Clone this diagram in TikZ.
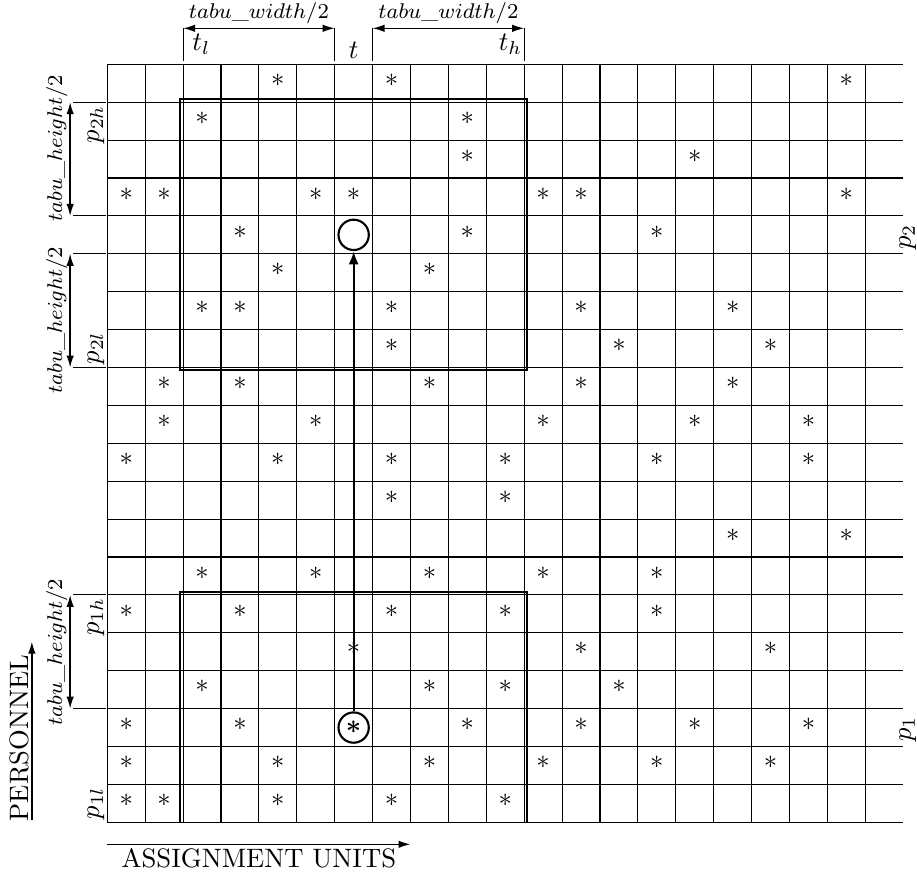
\documentclass[tikz,border=0pt]{standalone}
\usetikzlibrary{arrows.meta}
\begin{document}
\begin{tikzpicture}[x=0.5cm,y=0.5cm,
  gridline/.style={line width=0.4pt},
  tabubox/.style={line width=0.8pt},
  ticklinestyle/.style={line width=0.4pt},
  dimarrow/.style={line width=0.5pt,{Latex[length=4.5pt,width=2.8pt]}-{Latex[length=4.5pt,width=2.8pt]}},
  axisarrow/.style={line width=0.5pt,-{Latex[length=4.5pt,width=2.8pt]}},
  starmark/.style={inner sep=0pt},
  lab/.style={font=\fontsize{8}{10}\selectfont},
  circmark/.style={circle,draw,line width=0.8pt,minimum size=0.4cm,inner sep=0pt},
]
\useasboundingbox (-2.831,-1.391) rectangle (21.364,21.697);

% grid
\foreach \i in {0,...,20} \draw[gridline] (\i,0) -- (\i,20);
\foreach \j in {0,...,20} \draw[gridline] (0,\j) -- (21,\j);

% stars (row from top / columns)
\foreach \r/\cs in {0/{4,7,19},1/{2,9},2/{9,15},3/{0,1,5,6,11,12,19},4/{3,9,14},
  5/{4,8},6/{2,3,7,12,16},7/{7,13,17},8/{1,3,8,12,16},9/{1,5,11,15,18},
  10/{0,4,7,10,14,18},11/{7,10},12/{16,19},13/{2,5,8,11,14},14/{0,3,7,10,14},
  15/{6,12,17},16/{2,8,10,13},17/{0,3,9,12,15,18},18/{0,4,8,11,14,17},19/{0,1,4,7,10}}
  {\foreach \c in \cs
    {\node[starmark] (s-\r-\c) at (\c+0.5,19.58-\r) {$*$};}}

% tabu boxes
\draw[tabubox] (1.925,11.925) rectangle (11.075,19.075);
\draw[tabubox] (1.925,0) -- (1.925,6.075) -- (11.075,6.075) -- (11.075,0);

% circles and move arrow
\node[circmark,font=\boldmath] (low) at (6.5,2.5) {$*$};
\node[circmark] (up) at (6.5,15.5) {};
\draw[line width=0.8pt,-{Latex[length=5pt,width=3.8pt]}] (low) -- (up);

% top dimensioning
\foreach \x in {2,6,7,11} \draw[ticklinestyle] (\x,20.1) -- (\x,20.95);
\coordinate (xa) at (2,20.95);
\coordinate (xb) at (6,20.95);
\coordinate (xc) at (7,20.95);
\coordinate (xd) at (11,20.95);
\draw[dimarrow] (xa) -- (xb);
\draw[dimarrow] (xc) -- (xd);
\node[lab] (w1) at (4,21.36) {$tabu\_width/2$};
\node[lab] (w2) at (9,21.36) {$tabu\_width/2$};
\node (tl) at (2.48,20.54) {$t_l$};
\node (tt) at (6.5,20.38) {$t$};
\node (th) at (10.64,20.54) {$t_h$};

% left dimensioning
\foreach \y in {19,16,15,12,6,3} \draw[ticklinestyle] (-0.9,\y) -- (-0.04,\y);
\coordinate (ya) at (-0.98,19);
\coordinate (yb) at (-0.98,16);
\coordinate (yc) at (-0.98,15);
\coordinate (yd) at (-0.98,12);
\coordinate (ye) at (-0.98,6);
\coordinate (yf) at (-0.98,3);
\draw[dimarrow] (ya) -- (yb);
\draw[dimarrow] (yc) -- (yd);
\draw[dimarrow] (ye) -- (yf);
\node[lab,rotate=90] (h1) at (-1.33,17.79) {$tabu\_height/2$};
\node[lab,rotate=90] (h2) at (-1.33,13.25) {$tabu\_height/2$};
\node[lab,rotate=90] (h3) at (-1.33,4.49) {$tabu\_height/2$};

\node[rotate=90,anchor=east,inner sep=1pt] (p2h) at (-0.3,19) {$p_{2h}$};
\node[rotate=90,anchor=west,inner sep=1pt] (p2l) at (-0.3,12) {$p_{2l}$};
\node[rotate=90,anchor=east,inner sep=1pt] (p1h) at (-0.3,6) {$p_{1h}$};
\node[rotate=90,anchor=west,inner sep=1pt] (p1l) at (-0.3,0) {$p_{1l}$};

% right labels
\node[rotate=90] (p2) at (21.12,15.45) {$p_2$};
\node[rotate=90] (p1) at (21.12,2.46) {$p_1$};

% axes
\coordinate (pa) at (-1.99,0.05);
\coordinate (pb) at (-1.99,4.77);
\draw[axisarrow] (pa) -- (pb);
\node[rotate=90] (pers) at (-2.325,2.22) {PERSONNEL};
\coordinate (aa) at (0,-0.58);
\coordinate (ab) at (8,-0.58);
\draw[axisarrow] (aa) -- (ab);
\node (assign) at (4,-0.95) {ASSIGNMENT UNITS};
\end{tikzpicture}
\end{document}
